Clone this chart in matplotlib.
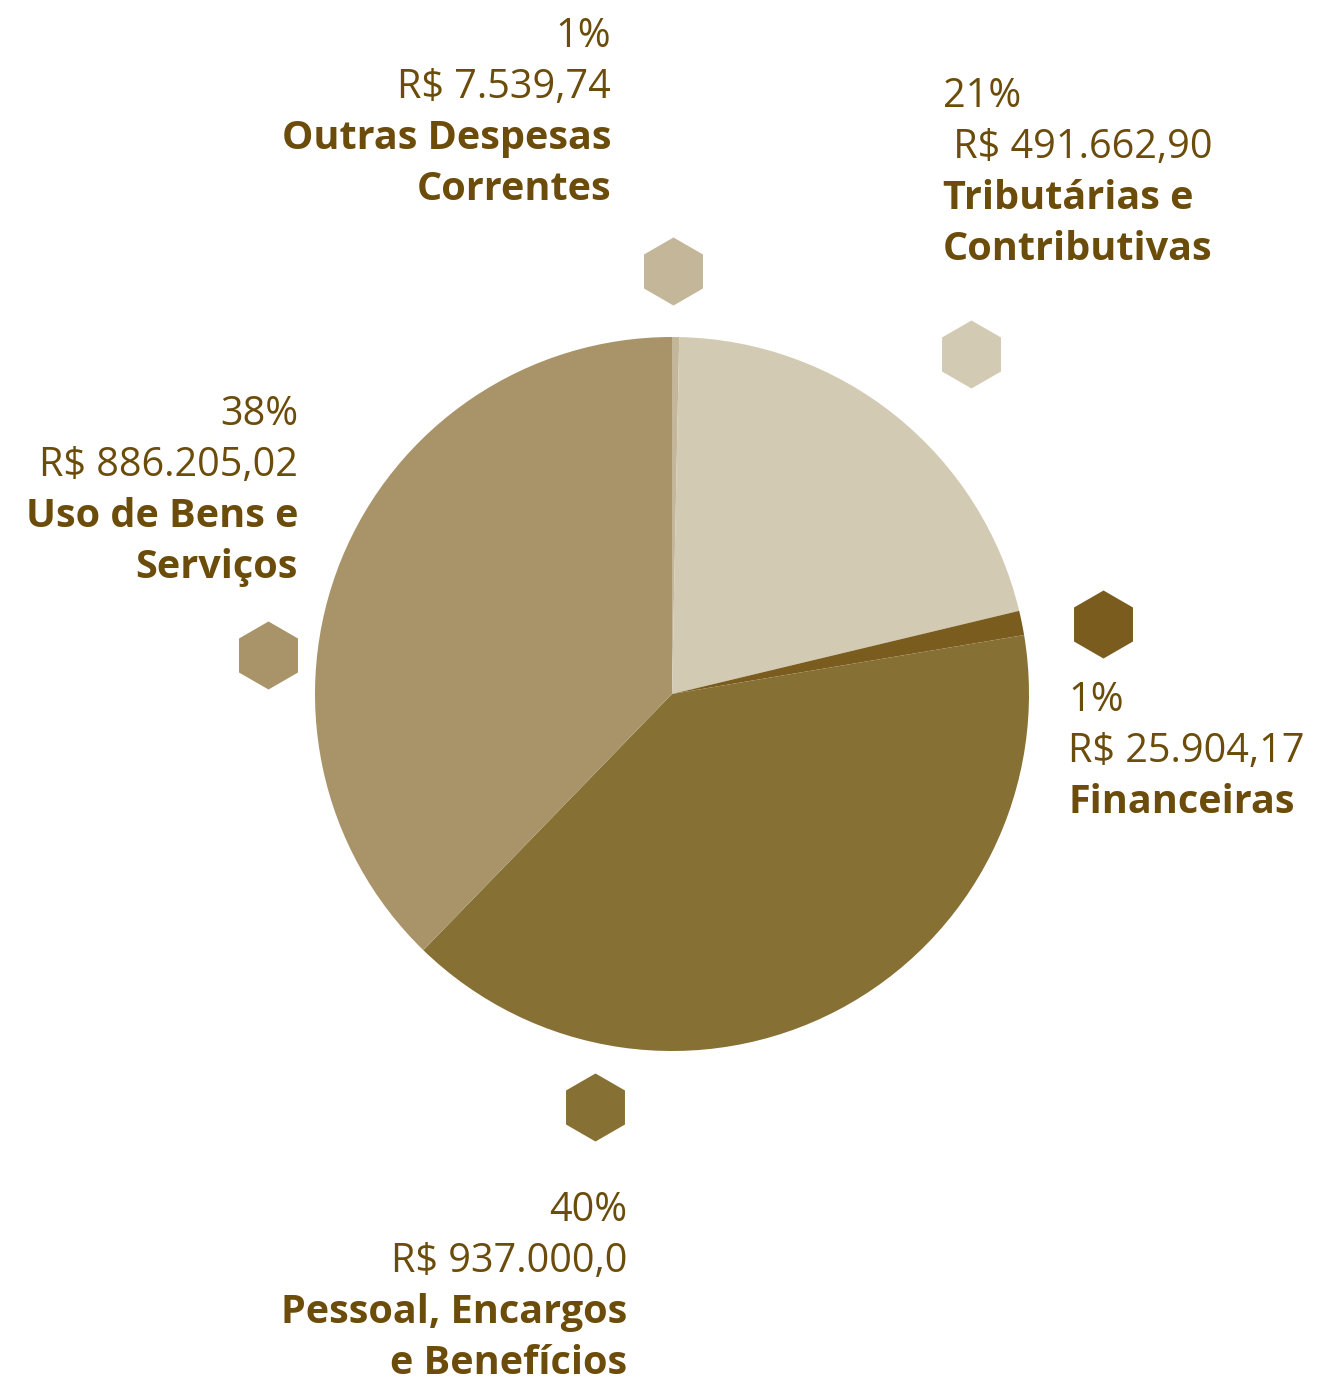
import matplotlib.pyplot as plt

# data (drawn clockwise from the top)
categories = ['Outras Despesas\nCorrentes', 'Tributárias e\nContributivas', 'Financeiras',
              'Pessoal, Encargos\ne Benefícios', 'Uso de Bens e\nServiços']
values = [7539.74, 491662.90, 25904.17, 937000.0, 886205.02]
pct_labels = ['1%', '21%', '1%', '40%', '38%']
value_labels = ['R$ 7.539,74', ' R$ 491.662,90', 'R$ 25.904,17', 'R$ 937.000,0', 'R$ 886.205,02']
colors = ['#c3b699', '#d3cab3', '#7a5d1e', '#877034', '#a9946a']

W, H = 1318, 1377
TXT = '#6b4c0a'
plt.rcParams['font.family'] = ['Open Sans', 'DejaVu Sans']

fig = plt.figure(figsize=(W / 100, H / 100), dpi=100)
ax = fig.add_axes([0, 0, 1, 1])

def Y(y):
    # pixel row -> data y
    return H - y

ax.pie(values, colors=colors, startangle=90, counterclock=False,
       center=(672, Y(694)), radius=357, wedgeprops=dict(linewidth=0))
ax.set_xlim(0, W)
ax.set_ylim(0, H)
ax.set_aspect('equal')
ax.axis('off')

# label blocks: (x, first baseline, alignment) and hexagon markers
label_pos = [(611, 47, 'right'), (943, 107, 'left'), (1068, 711, 'left'),
             (627, 1221, 'right'), (298, 425, 'right')]
hex_pos = [(673, 271), (971, 354), (1103, 624), (595, 1107), (268, 655)]
line_h = 51

for i, cat in enumerate(categories):
    x, y0, ha = label_pos[i]
    lines = [(pct_labels[i], 'normal'), (value_labels[i], 'normal')]
    lines += [(s, 'bold') for s in cat.split('\n')]
    for j, (s, w) in enumerate(lines):
        ax.text(x, Y(y0 + j * line_h), s, ha=ha, va='baseline', fontsize=28.5,
                fontweight=w, color=TXT)
    hx, hy = hex_pos[i]
    ax.plot(hx, Y(hy), marker='h', markersize=49, color=colors[i], markeredgewidth=0)

fig.savefig('out.png', dpi=100, facecolor='white')
